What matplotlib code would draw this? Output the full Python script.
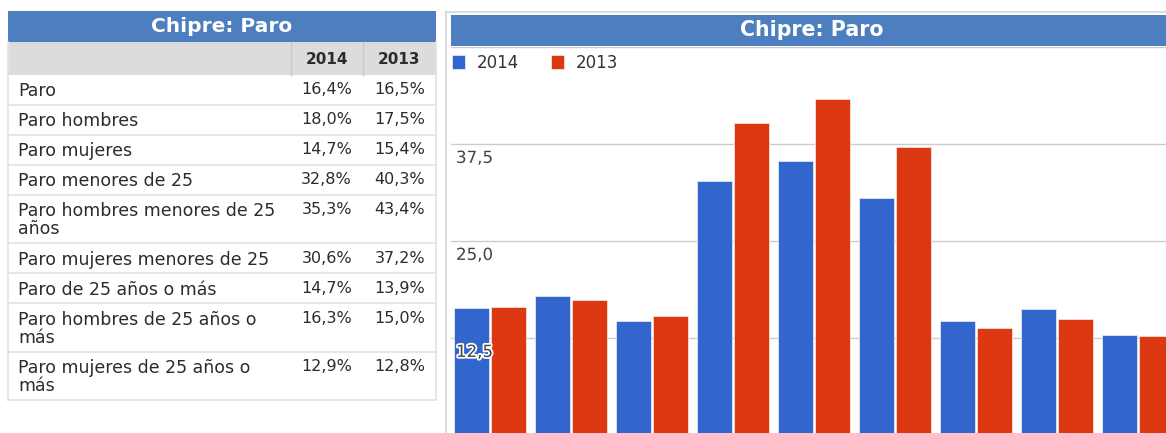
import numpy as np
import matplotlib
matplotlib.use('Agg')
import matplotlib.pyplot as plt
import matplotlib.patheffects as pe
import matplotlib.transforms as mtransforms
from matplotlib.patches import Rectangle

plt.rcParams['font.family'] = ['DejaVu Sans']

# datos
titulo = 'Chipre: Paro'
anios = ['2014', '2013']
categorias = ['Paro', 'Paro hombres', 'Paro mujeres', 'Paro menores de 25',
              'Paro hombres menores de 25\naños', 'Paro mujeres menores de 25',
              'Paro de 25 años o más', 'Paro hombres de 25 años o\nmás',
              'Paro mujeres de 25 años o\nmás']
paro_2014 = [16.4, 18.0, 14.7, 32.8, 35.3, 30.6, 14.7, 16.3, 12.9]
paro_2013 = [16.5, 17.5, 15.4, 40.3, 43.4, 37.2, 13.9, 15.0, 12.8]
marcas_y = [12.5, 25.0, 37.5, 50.0]

AZUL = '#3366cc'
ROJO = '#dc3912'
CABECERA = '#4d7ebf'
GRIS = '#dcdcdc'
TEXTO = '#2b2b2b'
LINEA = '#e2e2e2'

W, H = 1166, 433


def coma(v, dec=1):
    return f'{v:.{dec}f}'.replace('.', ',')


fig = plt.figure(figsize=(W / 100, H / 100), dpi=100)
fig.patch.set_facecolor('white')

# capa de fondo en pixeles
bg = fig.add_axes([0, 0, 1, 1], zorder=0)
bg.set_xlim(0, W)
bg.set_ylim(H, 0)
bg.axis('off')

# ---- tabla ----
x0, x1 = 7.5, 435.5
c1, c2 = 291, 363
bg.add_patch(Rectangle((x0, 11), x1 - x0, 31, facecolor=CABECERA, edgecolor='none'))
bg.text((x0 + x1) / 2, 26.5, titulo, color='white', fontsize=14.5, fontweight='bold',
        ha='center', va='center')
bg.add_patch(Rectangle((x0, 42), x1 - x0, 33, facecolor=GRIS, edgecolor='none'))
for cx in (c1, c2):
    bg.plot([cx, cx], [42, 75], color='#c8c8c8', lw=1)
bg.text((c1 + c2) / 2, 59, anios[0], color=TEXTO, fontsize=11, fontweight='bold',
        ha='center', va='center')
bg.text((c2 + x1) / 2, 59, anios[1], color=TEXTO, fontsize=11, fontweight='bold',
        ha='center', va='center')

y = 75
for cat, v14, v13 in zip(categorias, paro_2014, paro_2013):
    n = cat.count('\n') + 1
    alto = 30 if n == 1 else 48.3
    bg.text(18, y + 7.5, cat, color=TEXTO, fontsize=12.5, ha='left', va='top',
            linespacing=1.0)
    bg.text(352, y + 7.5, coma(v14) + '%', color=TEXTO, fontsize=11.5, ha='right', va='top')
    bg.text(425, y + 7.5, coma(v13) + '%', color=TEXTO, fontsize=11.5, ha='right', va='top')
    y += alto
    bg.plot([x0, x1], [y, y], color=LINEA, lw=1.2)
bg.plot([x0, x0], [42, y], color=LINEA, lw=1.2)
bg.plot([x1, x1], [42, y], color=LINEA, lw=1.2)

# ---- marco del grafico ----
bg.plot([446, 446], [12, H], color='#d4d4d4', lw=1.2)
bg.plot([446, W], [12, 12], color='#d4d4d4', lw=1.2)
bg.add_patch(Rectangle((451, 15), W - 451 + 20, 31, facecolor=CABECERA, edgecolor='none'))
bg.text(812, 30.5, titulo, color='white', fontsize=14.8, fontweight='bold',
        ha='center', va='center')

# ---- barras ----
y_cero, y_cincuenta = 435.4, 47.4
ax = fig.add_axes([451 / W, 1 - y_cero / H, (W - 451) / W, (y_cero - y_cincuenta) / H],
                  zorder=1)
ax.patch.set_alpha(0)
x = np.arange(len(categorias))
ancho = 0.432
ax.bar(x - 0.228, paro_2014, ancho, color=AZUL, edgecolor='#dfe6f7', lw=0.6,
       label=anios[0])
ax.bar(x + 0.228, paro_2013, ancho, color=ROJO, edgecolor='#f7dfd8', lw=0.6,
       label=anios[1])
ax.set_xlim(-0.481, 8.346)
ax.set_ylim(0, 50)
ax.set_yticks(marcas_y)
ax.yaxis.grid(True, color='#cccccc', lw=1)
ax.set_axisbelow(True)
ax.tick_params(left=False, labelleft=False, bottom=False, labelbottom=False)
for s in ax.spines.values():
    s.set_visible(False)

trans = ax.get_yaxis_transform() + mtransforms.ScaledTranslation(0, -0.045, fig.dpi_scale_trans)
for v in marcas_y[:-1]:
    ax.text(5 / (W - 451), v, coma(v), transform=trans, fontsize=12, color='#444444',
            ha='left', va='top', zorder=5,
            path_effects=[pe.withStroke(linewidth=2.5, foreground='white')])

ax.legend(loc='upper left', bbox_to_anchor=(452, 53.5), bbox_transform=bg.transData,
          ncol=2, frameon=False, fontsize=12, handlelength=0.75, handleheight=0.95,
          handletextpad=0.72, columnspacing=1.95, borderpad=0, borderaxespad=0,
          labelcolor='#333333')

fig.savefig('out.png', dpi=100, facecolor='white')
